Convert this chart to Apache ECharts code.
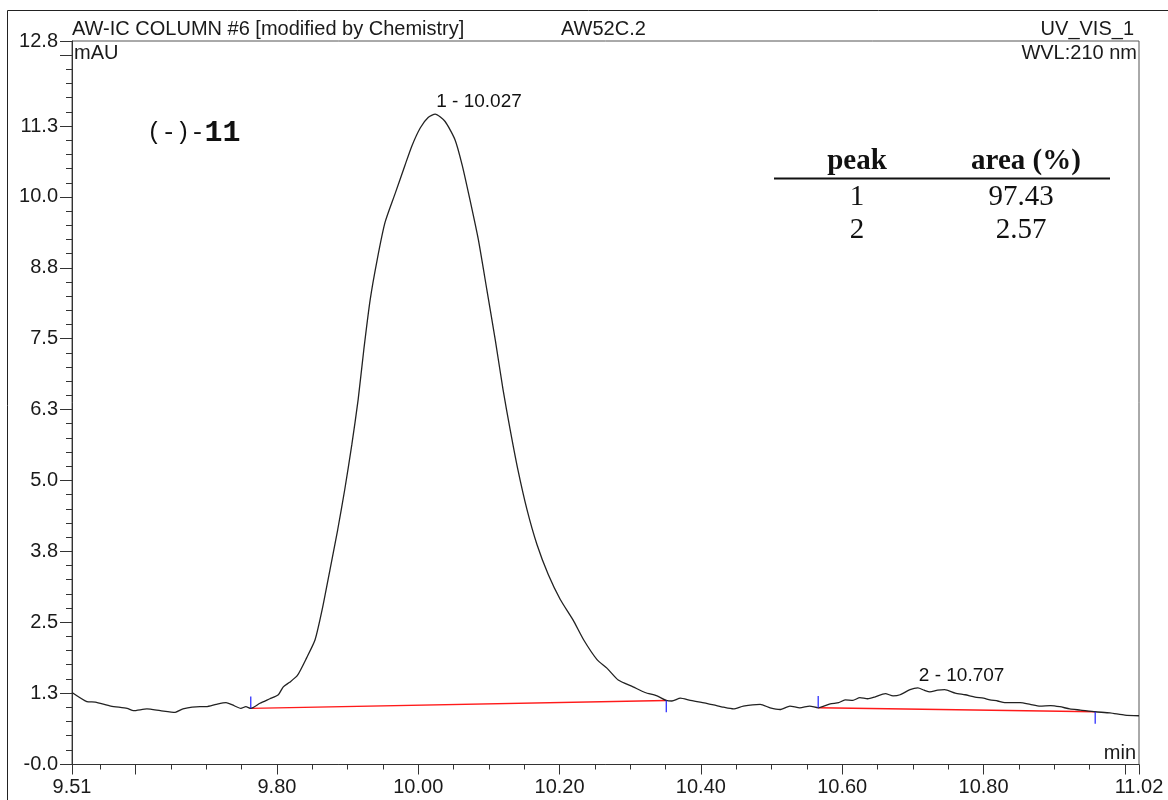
<!DOCTYPE html>
<html>
<head>
<meta charset="utf-8">
<title>AW52C.2</title>
<style>
  html, body { margin: 0; padding: 0; background: #fff; }
  #main { width: 1168px; height: 800px; }
</style>
</head>
<body>
<div id="main"></div>
<script src="https://cdn.jsdelivr.net/npm/echarts@6/dist/echarts.min.js"></script>
<script>
// retention time (min) and signal (mAU)
var times = [
  9.510, 9.531, 9.543, 9.565, 9.588, 9.597, 9.616, 9.635, 9.656, 9.667,
  9.691, 9.700, 9.714, 9.728, 9.737, 9.749, 9.756, 9.763, 9.776, 9.790,
  9.802, 9.809, 9.818, 9.829, 9.842, 9.854, 9.864, 9.875, 9.886, 9.896,
  9.906, 9.915, 9.923, 9.932, 9.942, 9.953, 9.967, 9.981, 9.991, 10.003,
  10.014, 10.024, 10.038, 10.052, 10.062, 10.073, 10.085, 10.097, 10.109, 10.120,
  10.130, 10.141, 10.154, 10.168, 10.184, 10.201, 10.219, 10.234, 10.253, 10.267,
  10.283, 10.304, 10.321, 10.338, 10.351, 10.359, 10.371, 10.385, 10.399, 10.418,
  10.432, 10.446, 10.460, 10.484, 10.498, 10.512, 10.526, 10.540, 10.554, 10.566,
  10.583, 10.595, 10.604, 10.615, 10.625, 10.636, 10.646, 10.661, 10.672, 10.682,
  10.696, 10.707, 10.716, 10.724, 10.735, 10.745, 10.760, 10.774, 10.788, 10.800,
  10.809, 10.820, 10.830, 10.852, 10.866, 10.880, 10.895, 10.908, 10.922, 10.937,
  10.958, 10.979, 11.000, 11.020
];
var signal = [
  1.26, 1.10, 1.09, 1.02, 0.98, 0.94, 0.97, 0.94, 0.91, 0.97,
  1.01, 1.01, 1.05, 1.08, 1.04, 0.98, 1.01, 0.98, 1.07, 1.15,
  1.22, 1.36, 1.44, 1.56, 1.87, 2.19, 2.72, 3.42, 4.13, 4.84,
  5.63, 6.43, 7.31, 8.19, 8.90, 9.55, 10.05, 10.55, 10.90, 11.22,
  11.40, 11.46, 11.33, 11.01, 10.57, 9.96, 9.25, 8.37, 7.48, 6.60,
  5.90, 5.19, 4.48, 3.87, 3.34, 2.90, 2.54, 2.19, 1.84, 1.69,
  1.48, 1.36, 1.26, 1.20, 1.12, 1.11, 1.16, 1.12, 1.09, 1.04,
  1.00, 0.97, 1.02, 1.05, 0.99, 0.96, 1.02, 0.99, 1.02, 0.99,
  1.06, 1.08, 1.13, 1.12, 1.17, 1.15, 1.18, 1.24, 1.20, 1.22,
  1.31, 1.34, 1.30, 1.27, 1.30, 1.31, 1.25, 1.22, 1.18, 1.16,
  1.13, 1.11, 1.08, 1.08, 1.05, 1.02, 1.03, 1.01, 0.97, 0.95,
  0.92, 0.90, 0.86, 0.85
];

// integration limits (start / end of each peak)
var intStartT = [9.763, 10.566];
var intStartV = [0.98, 0.99];
var intEndT = [10.351, 10.958];
var intEndV = [1.12, 0.92];

// peak annotations
var peakT = [10.024, 10.707];
var peakV = [11.46, 1.34];
var peakText = ['1 - 10.027', '2 - 10.707'];

// axis ticks
var xLabelValues = [9.51, 9.80, 10.00, 10.20, 10.40, 10.60, 10.80, 11.02];
var xMajorTicks = [9.51, 9.60, 9.80, 10.00, 10.20, 10.40, 10.60, 10.80, 11.00, 11.02];
var yLabelValues = [-0.01, 1.25, 2.5, 3.75, 5.0, 6.25, 7.5, 8.75, 10.0, 11.25, 12.75];
var yMajorTicks = [-0.01, 0, 1.25, 2.5, 3.75, 5.0, 6.25, 7.5, 8.75, 10.0, 11.25, 12.5, 12.75];

// area table
var tablePeaks = ['1', '2'];
var tableAreas = ['97.43', '2.57'];

var xMin = 9.51, xMax = 11.02, yMin = -0.01, yMax = 12.75;

var xMinorTicks = [];
for (var i = 0; i <= 30; i++) {
  var v = Math.round((9.55 + i * 0.05) * 100) / 100;
  if (v < xMax) xMinorTicks.push(v);
}
var yMinorTicks = [];
for (var j = 0; j <= 51; j++) yMinorTicks.push(j * 0.25);

var trace = [];
for (var k = 0; k < times.length; k++) trace.push([times[k], signal[k]]);

var font = "'Liberation Sans', Arial, sans-serif";
var ink = '#1a1a1a';

var series = [{
  type: 'line',
  data: trace,
  showSymbol: false,
  smooth: 0.2,
  lineStyle: { color: '#222', width: 1.3 },
  z: 5
}];

for (var p = 0; p < intStartT.length; p++) {
  series.push({
    type: 'line',
    data: [[intStartT[p], intStartV[p]], [intEndT[p], intEndV[p]]],
    showSymbol: false,
    lineStyle: { color: '#ff1a1a', width: 1.4 },
    z: 4
  });
  series.push({
    type: 'line',
    data: [[intStartT[p], intStartV[p]], [intStartT[p], intStartV[p] + 0.21]],
    showSymbol: false,
    lineStyle: { color: '#2020ff', width: 1.2 },
    z: 6
  });
  series.push({
    type: 'line',
    data: [[intEndT[p], intEndV[p]], [intEndT[p], intEndV[p] - 0.21]],
    showSymbol: false,
    lineStyle: { color: '#2020ff', width: 1.2 },
    z: 6
  });
}

var labelData = [];
for (var q = 0; q < peakT.length; q++) {
  labelData.push({ value: [peakT[q], peakV[q]], name: peakText[q] });
}
series.push({
  type: 'scatter',
  data: labelData,
  symbolSize: 1,
  itemStyle: { color: 'rgba(0,0,0,0)' },
  label: {
    show: true,
    position: 'top',
    align: 'left',
    distance: 2,
    offset: [1, 0],
    formatter: function (d) { return d.name; },
    color: '#111',
    opacity: 1,
    textBorderWidth: 0,
    fontFamily: font,
    fontSize: 19
  },
  z: 7
});

var chart = echarts.init(document.getElementById('main'));
var option = {
  animation: false,
  backgroundColor: '#fff',
  grid: {
    left: 72, right: 29, top: 41, bottom: 35.5,
    show: true, borderColor: '#555', borderWidth: 1
  },
  xAxis: [{
    type: 'value', min: xMin, max: xMax,
    axisLine: { onZero: false, lineStyle: { color: '#333' } },
    splitLine: { show: false },
    axisTick: { show: true, length: 10, customValues: xMajorTicks, lineStyle: { color: '#333' } },
    axisLabel: {
      customValues: xLabelValues, margin: 13,
      formatter: function (v) { return v.toFixed(2); },
      color: ink, fontFamily: font, fontSize: 20
    }
  }, {
    type: 'value', min: xMin, max: xMax, position: 'bottom',
    axisLine: { show: false, onZero: false },
    splitLine: { show: false },
    axisTick: { show: true, length: 5, customValues: xMinorTicks, lineStyle: { color: '#333' } },
    axisLabel: { show: false }
  }],
  yAxis: [{
    type: 'value', min: yMin, max: yMax,
    axisLine: { show: true, onZero: false, lineStyle: { color: '#333' } },
    splitLine: { show: false },
    axisTick: { show: true, length: 12, customValues: yMajorTicks, lineStyle: { color: '#333' } },
    axisLabel: {
      customValues: yLabelValues, margin: 14,
      formatter: function (v) { return v.toFixed(1); },
      color: ink, fontFamily: font, fontSize: 20
    }
  }, {
    type: 'value', min: yMin, max: yMax, position: 'left',
    axisLine: { show: false, onZero: false },
    splitLine: { show: false },
    axisTick: { show: true, length: 6, customValues: yMinorTicks, lineStyle: { color: '#333' } },
    axisLabel: { show: false }
  }],
  series: series,
  graphic: [
    { type: 'rect', shape: { x: 7.5, y: 10.5, width: 1300, height: 900 },
      style: { fill: 'none', stroke: '#222', lineWidth: 1 }, silent: true },
    { type: 'text', x: 72, y: 29, style: { text: 'AW-IC COLUMN #6 [modified by Chemistry]', font: '20px ' + font, fill: ink, verticalAlign: 'middle' } },
    { type: 'text', x: 561, y: 29, style: { text: 'AW52C.2', font: '20px ' + font, fill: ink, verticalAlign: 'middle' } },
    { type: 'text', x: 1134, y: 29, style: { text: 'UV_VIS_1', font: '20px ' + font, fill: ink, align: 'right', verticalAlign: 'middle' } },
    { type: 'text', x: 74, y: 53, style: { text: 'mAU', font: '20px ' + font, fill: ink, verticalAlign: 'middle' } },
    { type: 'text', x: 1137, y: 53, style: { text: 'WVL:210 nm', font: '20px ' + font, fill: ink, align: 'right', verticalAlign: 'middle' } },
    { type: 'text', x: 1136, y: 753, style: { text: 'min', font: '20px ' + font, fill: ink, align: 'right', verticalAlign: 'middle' } },
    { type: 'text', x: 147, y: 133, style: {
        text: '{a|(-)-}{b|11}', verticalAlign: 'middle',
        rich: {
          a: { fontFamily: "'Liberation Mono', monospace", fontSize: 24, fill: '#111' },
          b: { fontFamily: "'Liberation Mono', monospace", fontSize: 30, fontWeight: 'bold', fill: '#111' }
        } } },
    { type: 'text', x: 857, y: 162, style: { text: 'peak', font: 'bold 29px "Liberation Serif", serif', fill: '#111', align: 'center', verticalAlign: 'middle' } },
    { type: 'text', x: 1026, y: 162, style: { text: 'area (%)', font: 'bold 29px "Liberation Serif", serif', fill: '#111', align: 'center', verticalAlign: 'middle' } },
    { type: 'line', shape: { x1: 774, y1: 178.5, x2: 1110, y2: 178.5 }, style: { stroke: '#111', lineWidth: 2 } },
    { type: 'text', x: 857, y: 197, style: { text: tablePeaks[0], font: '29px "Liberation Serif", serif', fill: '#111', align: 'center', verticalAlign: 'middle' } },
    { type: 'text', x: 1021, y: 197, style: { text: tableAreas[0], font: '29px "Liberation Serif", serif', fill: '#111', align: 'center', verticalAlign: 'middle' } },
    { type: 'text', x: 857, y: 230, style: { text: tablePeaks[1], font: '29px "Liberation Serif", serif', fill: '#111', align: 'center', verticalAlign: 'middle' } },
    { type: 'text', x: 1021, y: 230, style: { text: tableAreas[1], font: '29px "Liberation Serif", serif', fill: '#111', align: 'center', verticalAlign: 'middle' } }
  ]
};
chart.setOption(option);
</script>
</body>
</html>
